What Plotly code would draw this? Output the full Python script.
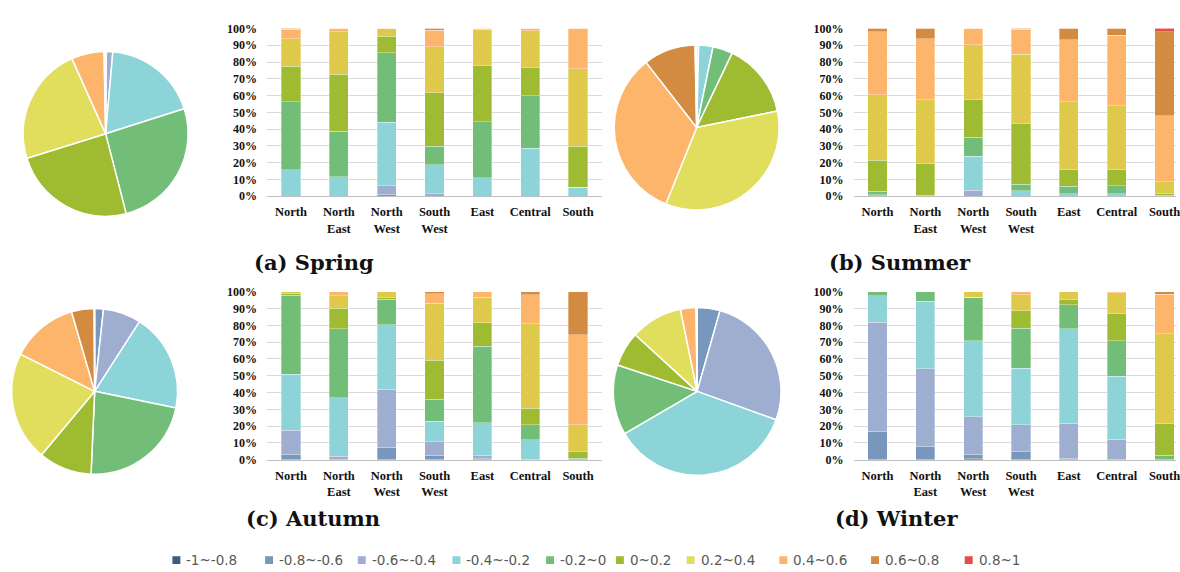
import plotly.graph_objects as go

# Correlation classes (legend order) and colours
classes = ["-1~-0.8", "-0.8~-0.6", "-0.6~-0.4", "-0.4~-0.2", "-0.2~0",
           "0~0.2", "0.2~0.4", "0.4~0.6", "0.6~0.8", "0.8~1"]
bar_colors = ["#3F5D7D", "#7797BD", "#9DAED0", "#8CD4D7", "#72BD77",
              "#9EBB32", "#DFC94A", "#FDB56B", "#D38B42", "#E84C4A"]
pie_colors = ["#3F5D7D", "#7797BD", "#9DAED0", "#8CD4D7", "#72BD77",
              "#9EBB32", "#E1DE5E", "#FDB56B", "#D38B42", "#E84C4A"]

regions = ["North", "North<br>East", "North<br>West", "South<br>West",
           "East", "Central", "South"]

# Share (%) of each class per region: one row per region, columns follow `classes`
spring_bars = [
    [0, 0, 0, 15.8, 40.4, 21.4, 16.4, 5.4, 0.6, 0],
    [0, 0, 0, 11.5, 27.2, 34.1, 25.3, 1.9, 0, 0],
    [0, 1.2, 5.2, 37.6, 41.4, 10.1, 4.5, 0, 0, 0],
    [0, 0, 1.4, 17.3, 11.1, 31.9, 27.4, 9.9, 1.0, 0],
    [0, 0, 0, 10.9, 33.5, 33.6, 21.4, 0.6, 0, 0],
    [0, 0, 0, 28.6, 31.3, 17.1, 21.6, 1.4, 0, 0],
    [0, 0, 0, 5.3, 0, 24.5, 46.3, 23.9, 0, 0],
]
summer_bars = [
    [0, 0, 0, 1.0, 1.9, 18.5, 39.1, 37.6, 1.9, 0],
    [0, 0, 0, 0, 0.6, 19.2, 37.8, 36.2, 6.2, 0],
    [0, 0, 3.5, 20.4, 11.3, 22.4, 32.7, 9.7, 0, 0],
    [0, 0, 0, 3.3, 3.9, 36.4, 41.0, 14.8, 0.6, 0],
    [0, 0, 0, 1.6, 4.4, 9.8, 40.4, 37.2, 6.6, 0],
    [0, 0, 0, 1.6, 4.6, 9.9, 37.8, 42.0, 4.1, 0],
    [0, 0, 0, 0, 0.5, 1.1, 7.0, 39.3, 50.0, 2.1],
]
autumn_bars = [
    [0, 3.3, 14.3, 33.3, 47.0, 0.9, 1.2, 0, 0, 0],
    [0, 0, 1.9, 35.0, 41.2, 12.2, 7.4, 2.3, 0, 0],
    [0, 7.5, 34.5, 38.3, 15.3, 1.3, 3.1, 0, 0, 0],
    [0, 2.7, 7.9, 12.2, 13.2, 23.2, 34.0, 5.6, 1.2, 0],
    [0, 0.6, 1.9, 19.4, 45.6, 14.1, 15.1, 3.3, 0, 0],
    [0, 0, 0, 11.8, 9.1, 9.7, 50.3, 17.4, 1.7, 0],
    [0, 0, 0, 0, 0.8, 4.2, 15.9, 53.4, 25.7, 0],
]
winter_bars = [
    [0, 17.0, 65.0, 15.7, 2.3, 0, 0, 0, 0, 0],
    [0, 7.9, 46.2, 40.3, 5.6, 0, 0, 0, 0, 0],
    [0.8, 2.5, 22.2, 45.5, 25.7, 0, 3.3, 0, 0, 0],
    [0, 4.8, 16.0, 33.8, 23.8, 10.4, 9.5, 1.7, 0, 0],
    [0, 0.8, 20.8, 56.4, 14.3, 3.3, 4.4, 0, 0, 0],
    [0, 0, 12.2, 37.6, 21.0, 16.3, 12.5, 0.4, 0, 0],
    [0, 0, 0, 0, 2.7, 18.7, 53.5, 23.6, 1.5, 0],
]

# National share (%) of each class per season
spring_pie = [0, 0.1, 1.3, 18.7, 25.9, 24.2, 23.1, 6.4, 0.3, 0]
summer_pie = [0, 0, 0.4, 2.8, 3.9, 14.7, 34.3, 33.4, 10.2, 0.3]
autumn_pie = [0, 1.7, 7.4, 19.1, 22.5, 10.4, 21.3, 13.1, 4.4, 0.1]
winter_pie = [0, 4.4, 26.1, 36.1, 13.5, 6.7, 10.0, 3.0, 0.2, 0]

titles = ["(a) Spring", "(b) Summer", "(c) Autumn", "(d) Winter"]

W, H = 1180, 572


def px_x(v):
    return v / W


def px_y(v):
    return 1 - v / H


fig = go.Figure()

panels = [
    # bars, pie, axis suffix, x-domain px, y-domain px (top, bottom), x range, pie centre/radius px
    (spring_bars, spring_pie, "", (268, 604), (22, 194), (-0.5, 6.5), (106, 130, 84.5)),
    (summer_bars, summer_pie, "2", (856.5, 1180), (22, 194), (-0.5, 6.24), (699, 123.5, 84.5)),
    (autumn_bars, autumn_pie, "3", (268, 604), (292, 464), (-0.5, 6.5), (95, 394, 85)),
    (winter_bars, winter_pie, "4", (856.5, 1180), (292, 464), (-0.5, 6.24), (699.5, 394, 86)),
]

serif = "Liberation Serif"

for p, (bars, pie, sfx, xd, yd, xr, pc) in enumerate(panels):
    xa = "x" + sfx
    ya = "y" + sfx
    for k, cls in enumerate(classes):
        fig.add_trace(go.Bar(
            x=regions,
            y=[row[k] for row in bars],
            name=cls,
            marker=dict(color=bar_colors[k],
                        line=dict(color="rgba(255,255,255,0.55)", width=0.6)),
            xaxis=xa, yaxis=ya,
            legendgroup=cls,
            showlegend=False,
        ))
    cx, cy, r = pc
    fig.add_trace(go.Pie(
        labels=classes,
        values=pie,
        sort=False,
        direction="clockwise",
        rotation=0,
        marker=dict(colors=pie_colors, line=dict(color="white", width=1.5)),
        textinfo="none",
        showlegend=False,
        domain=dict(x=[px_x(cx - r), px_x(cx + r)], y=[px_y(cy + r), px_y(cy - r)]),
    ))
    fig.update_layout(**{
        "xaxis" + sfx: dict(
            domain=[px_x(xd[0]), px_x(xd[1])], anchor=ya, range=list(xr),
            showgrid=False, showline=True, linecolor="#BFBFBF", linewidth=1,
            ticks="", ticklabelstandoff=4,
            tickfont=dict(family=serif, size=12.5, color="#111111", weight="bold"),
            fixedrange=True,
        ),
        "yaxis" + sfx: dict(
            domain=[px_y(yd[1]), px_y(yd[0])], anchor=xa, range=[0, 100],
            dtick=10, ticksuffix="%", showgrid=True, gridcolor="#D9D9D9",
            gridwidth=1, zeroline=False, ticks="", ticklabelstandoff=9,
            tickfont=dict(family=serif, size=12, color="#111111", weight="bold"),
            fixedrange=True,
        ),
    })

# Panel captions
caption_pos = [(315, 262), (903, 262), (314, 524), (900, 524)]
for t, (cx, cy) in zip(titles, caption_pos):
    fig.add_annotation(
        text="<b>%s</b>" % t, x=px_x(cx), y=px_y(cy), xref="paper", yref="paper",
        xanchor="center", yanchor="middle", showarrow=False,
        font=dict(family="DejaVu Serif", size=21, color="#111111"),
    )

# Shared key row along the bottom: small colour square followed by the class name
legend_marker_x = [177, 270, 363, 458, 552, 622, 693, 786, 878, 972]
key_y = 567
key_half = 4
for cls, col, mx in zip(classes, pie_colors, legend_marker_x):
    fig.add_shape(
        type="rect", xref="paper", yref="paper",
        x0=px_x(mx - key_half), x1=px_x(mx + key_half),
        y0=px_y(key_y + key_half), y1=px_y(key_y - key_half),
        fillcolor=col, line=dict(width=0),
    )
    fig.add_annotation(
        text=cls, x=px_x(mx + 8), y=px_y(key_y), xref="paper", yref="paper",
        xanchor="left", yanchor="middle", showarrow=False,
        font=dict(family="DejaVu Sans", size=13.5, color="#595959"),
    )

fig.update_layout(
    width=W, height=H,
    margin=dict(l=0, r=0, t=0, b=0),
    barmode="stack", bargap=0.6,
    showlegend=False,
    paper_bgcolor="white", plot_bgcolor="white",
)

fig.write_html("out.html")
